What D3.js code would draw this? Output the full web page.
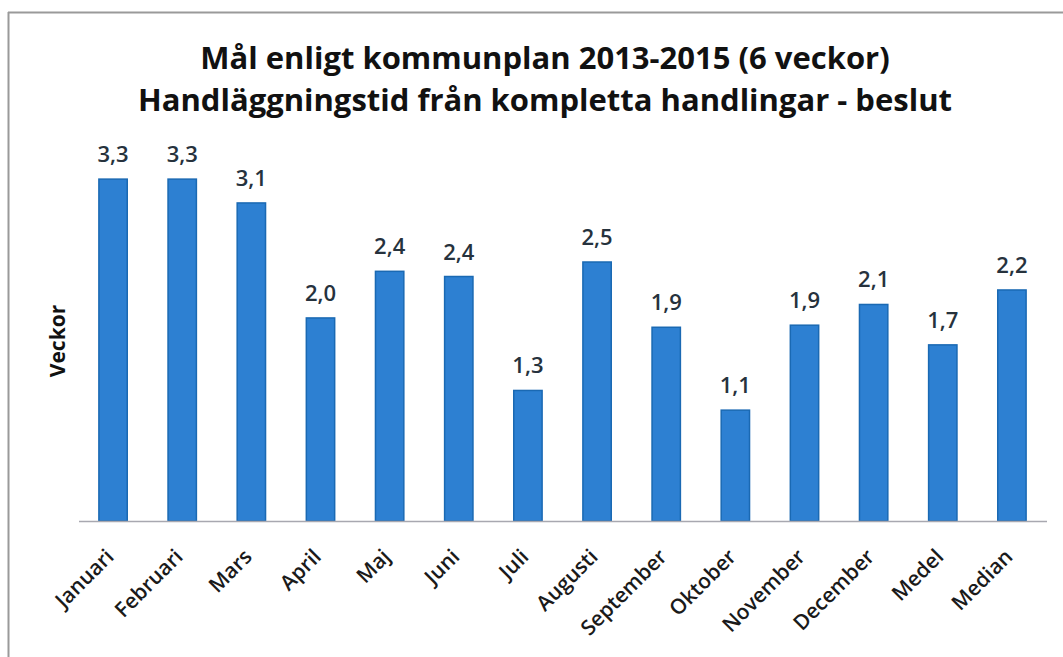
<!DOCTYPE html>
<html lang="sv">
  <head>
    <meta charset="UTF-8" />
    <script src="https://d3js.org/d3.v7.min.js"></script>
    <style>
      body { margin: 0; background: #fff; }
      svg { display: block; font-family: 'Open Sans', Lato, sans-serif; }
    </style>
  </head>
  <body>
    <svg id="chart" width="1063" height="657"></svg>
    <script>
      // data
      const months = ['Januari', 'Februari', 'Mars', 'April', 'Maj', 'Juni', 'Juli',
        'Augusti', 'September', 'Oktober', 'November', 'December', 'Medel', 'Median']
      const weeks = [3.3, 3.3, 3.07, 1.96, 2.41, 2.36, 1.26, 2.5, 1.87, 1.07, 1.89, 2.09, 1.7, 2.23]
      const titleLines = ['Mål enligt kommunplan 2013-2015 (6 veckor)',
        'Handläggningstid från kompletta handlingar - beslut']

      const svg = d3.select('#chart')
      const baseY = 521

      // frame (only top and left edges show)
      svg.append('line').attr('x1', 8).attr('y1', 12.5).attr('x2', 1063).attr('y2', 12.5)
        .attr('stroke', '#9a9a9a').attr('stroke-width', 2)
      svg.append('line').attr('x1', 8.5).attr('y1', 12).attr('x2', 8.5).attr('y2', 657)
        .attr('stroke', '#9a9a9a').attr('stroke-width', 2)

      const x = d3.scaleBand().domain(months).range([78.5, 1046.5])
        .paddingInner(0.59).paddingOuter(0.295)
      const y = d3.scaleLinear().domain([0, 3.5]).range([baseY, baseY - 3.5 * 103.6])

      svg.selectAll('text.title')
        .data(titleLines)
        .enter()
        .append('text')
        .attr('class', 'title')
        .attr('x', 545)
        .attr('y', (d, i) => 69 + i * 42)
        .attr('text-anchor', 'middle')
        .style('font-size', '31px')
        .style('font-weight', 'bold')
        .style('fill', '#111')
        .text((d) => d)

      svg.append('text')
        .attr('transform', 'translate(65,341) rotate(-90)')
        .attr('text-anchor', 'middle')
        .style('font-size', '21px')
        .style('font-weight', 'bold')
        .style('fill', '#111')
        .text('Veckor')

      svg.selectAll('rect.bar')
        .data(weeks)
        .enter()
        .append('rect')
        .attr('class', 'bar')
        .attr('x', (d, i) => x(months[i]))
        .attr('y', (d) => y(d))
        .attr('width', x.bandwidth())
        .attr('height', (d) => baseY - y(d))
        .attr('fill', '#2d80d2')
        .attr('stroke', '#1a69b3')
        .attr('stroke-width', 1.5)

      svg.selectAll('text.val')
        .data(weeks)
        .enter()
        .append('text')
        .attr('class', 'val')
        .attr('x', (d, i) => x(months[i]) + x.bandwidth() / 2)
        .attr('y', (d) => y(d) - 17)
        .attr('text-anchor', 'middle')
        .style('font-size', '22px')
        .style('font-weight', 600)
        .style('fill', '#26323d')
        .text((d) => d3.format('.1f')(d).replace('.', ','))

      const xAxis = svg.append('g')
        .attr('transform', `translate(0,${baseY})`)
        .call(d3.axisBottom(x).tickSize(0).tickPadding(0))
      xAxis.select('.domain').attr('stroke', '#a8a8b0').attr('stroke-width', 1.5)
      xAxis.selectAll('text')
        .attr('text-anchor', 'end')
        .attr('dy', 0)
        .attr('transform', 'translate(2,37) rotate(-45)')
        .style('font-family', "'Open Sans', Lato, sans-serif")
        .style('font-size', '21px')
        .style('font-weight', 600)
        .style('fill', '#1a1a1a')
    </script>
  </body>
</html>
